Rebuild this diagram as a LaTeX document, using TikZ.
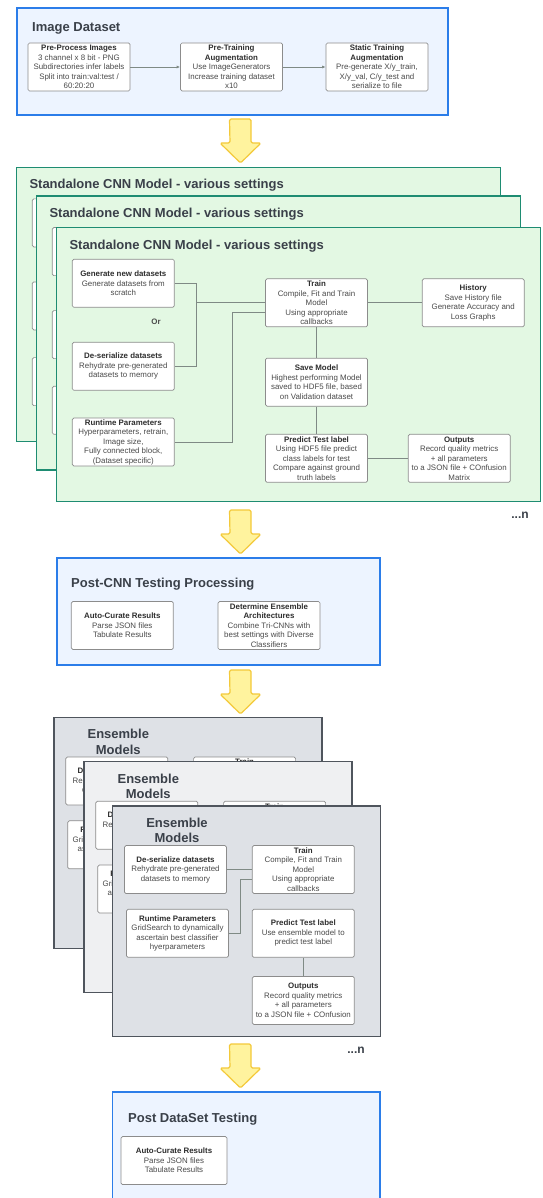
\documentclass[tikz,border=0pt]{standalone}
\usepackage{fontspec}
\setmainfont{Liberation Sans}
\usetikzlibrary{arrows.meta,calc}
\definecolor{bluebd}{HTML}{2B7DE9}
\definecolor{bluebg}{HTML}{EDF4FF}
\definecolor{greenbd}{HTML}{1E8C72}
\definecolor{greenbg}{HTML}{E3F8E3}
\definecolor{graybd}{HTML}{4F555D}
\definecolor{graybga}{HTML}{DEE1E6}
\definecolor{graybgb}{HTML}{EFF0F2}
\definecolor{titlec}{HTML}{3A4049}
\definecolor{cardbd}{HTML}{8C8C8C}
\definecolor{bodyc}{HTML}{4A4A4A}
\definecolor{headc}{HTML}{2E2E2E}
\definecolor{linec}{HTML}{7F8A85}
\definecolor{yellowbg}{HTML}{FFF39E}
\definecolor{yellowbd}{HTML}{F3C93A}
\newcommand\hd[1]{\textcolor{headc}{\bfseries #1}}
\newcommand\ctxt[1]{#1}
\newcommand\bktxt[1]{}
\tikzset{
  cardtext/.style={text=bodyc, font=\fontsize{7.9}{9.5}\selectfont, align=center, inner sep=0pt},
  card/.style={cardtext, draw=cardbd, line width=0.7pt, fill=white, rounded corners=1.5pt,
    minimum width=102pt, minimum height=48pt},
  ttl/.style={font=\bfseries\fontsize{13}{15.5}\selectfont, text=titlec, inner sep=0pt},
  conn/.style={draw=linec, line width=0.7pt},
  arr/.style={conn, -{Latex[length=3.5pt,width=3pt]}},
  bluebox/.style={draw=bluebd, fill=bluebg, line width=1.4pt},
  greenbox/.style={draw=greenbd, fill=greenbg, line width=1.4pt},
  graybox/.style={draw=graybd, line width=1.4pt},
  yarr/.style={draw=yellowbd, fill=yellowbg, line width=1.2pt, rounded corners=1.5pt, line join=round},
  dots/.style={font=\bfseries\fontsize{12}{14}\selectfont, text=titlec, inner sep=0pt},
}
\newcommand\yarrow[1]{\filldraw[yarr] (229.5,#1) -- ++(21.5,0) -- ++(0,24) -- ++(10,0) -- ++(-20.5,20) -- ++(-20.5,-20) -- ++(10,0) -- cycle;}
\newcommand\cnnlayer[3]{%
\begin{scope}[shift={(#1,#2)}, name prefix=#3]
  \filldraw[greenbox] (0,0) rectangle (484,274);
  \node[ttl, anchor=west] (title) at (12.6,18.3) {Standalone CNN Model - various settings};
  \node[card] (gen) at (66.6,55.6) {\ctxt{\hd{Generate new datasets}\\Generate datasets from\\scratch}};
  \node[inner sep=0pt, font=\bfseries\fontsize{7.9}{9.5}\selectfont, text=bodyc] (or) at (99.3,94.3) {\ctxt{Or}};
  \node[card] (deser) at (66.6,138.6) {\ctxt{\hd{De-serialize datasets}\\Rehydrate pre-generated\\datasets to memory}};
  \node[card] (rt) at (66.6,214.3) {\ctxt{\hd{Runtime Parameters}\\Hyperparameters, retrain,\\Image size,\\Fully connected block,\\(Dataset specific)}};
  \node[card] (train) at (259.8,75.1) {\ctxt{\hd{Train}\\Compile, Fit and Train\\Model\\Using appropriate\\callbacks}};
  \node[card] (hist) at (416.5,75.1) {\ctxt{\hd{History}\\Save History file\\Generate Accuracy and\\Loss Graphs}};
  \node[card] (save) at (259.8,154.5) {\ctxt{\hd{Save Model}\\Highest performing Model\\saved to HDF5 file, based\\on Validation dataset}};
  \node[card] (pred) at (259.8,230.6) {\ctxt{\hd{Predict Test label}\\Using HDF5 file predict\\class labels for test\\Compare against ground\\truth labels}};
  \node[card] (out) at (402.5,230.6) {\ctxt{\hd{Outputs}\\Record quality metrics\\+ all parameters\\to a JSON file + COnfusion\\Matrix}};
  \coordinate (j1) at (140,75.1);
  \coordinate (j2) at (175.6,84.6);
  \draw[conn] (gen.east) -| (j1) |- (deser.east);
  \draw[conn] (j1) -- (train.west);
  \draw[conn] (rt.east) -| (j2) -- (train.west |- j2);
  \draw[conn] (train) -- (hist);
  \draw[conn] (train) -- (save);
  \draw[conn] (save) -- (pred);
  \draw[conn] (pred) -- (out);
\end{scope}}
\newcommand\enslayer[4]{%
\begin{scope}[shift={(#1,#2)}, name prefix=#3]
  \filldraw[graybox, fill=#4] (0,0) rectangle (268,230.7);
  \node[ttl, align=center] (title) at (64.3,24.5) {Ensemble\\Models};
  \node[card] (deser) at (62.8,63.5) {\hd{De-serialize datasets}\\Rehydrate pre-generated\\datasets to memory};
  \node[card] (train) at (190.6,63.5) {\ctxt{\hd{Train}\\Compile, Fit and Train\\Model\\Using appropriate\\callbacks}};
  \bktxt{\node[cardtext] (trh) at (190.6,44.5) {\hd{Train}};}
  \node[card] (rt) at (64.8,127.3) {\hd{Runtime Parameters}\\GridSearch to dynamically\\ascertain best classifier\\hyerparameters};
  \node[card] (pred) at (190.6,127.3) {\ctxt{\hd{Predict Test label}\\Use ensemble model to\\predict test label}};
  \node[card] (out) at (190.6,194.5) {\ctxt{\hd{Outputs}\\Record quality metrics\\+ all parameters\\to a JSON file + COnfusion}};
  \coordinate (j) at (127.3,73.3);
  \draw[conn] (deser) -- (train);
  \draw[conn] (rt.east) -| (j) -- (train.west |- j);
  \draw[conn] (pred) -- (out);
\end{scope}}
\begin{document}
\begin{tikzpicture}[x=1pt,y=-1pt]
\useasboundingbox (0,0) rectangle (542,1198);
\clip (0,0) rectangle (542,1198);
\fill[white] (0,0) rectangle (542,1198);
% Image Dataset
\filldraw[bluebox] (17,8) rectangle (448,115);
\node[ttl, anchor=west] (t1) at (32,28) {Image Dataset};
\node[card] (pp) at (79,67) {\hd{Pre-Process Images}\\3 channel x 8 bit - PNG\\Subdirectories infer labels\\Split into train:val:test /\\60:20:20};
\node[card] (pt) at (231.5,67) {\hd{Pre-Training}\\\hd{Augmentation}\\Use ImageGenerators\\Increase training dataset\\x10};
\node[card] (st) at (377,67) {\hd{Static Training}\\\hd{Augmentation}\\Pre-generate X/y\_train,\\X/y\_val, C/y\_test and\\serialize to file};
\draw[arr] (pp) -- (pt);
\draw[arr] (pt) -- (st);
\yarrow{119}
% CNN layers (text of the back layers is hidden behind the front ones)
\renewcommand\ctxt[1]{}
\cnnlayer{16.7}{167.3}{a-}
\cnnlayer{36.7}{196}{b-}
\renewcommand\ctxt[1]{#1}
\cnnlayer{56.7}{227.7}{c-}
\node[dots] (n1) at (520,515) {...n};
\yarrow{510}
% Post-CNN
\filldraw[bluebox] (57,558) rectangle (380,665);
\node[ttl, anchor=west] (t2) at (71,584) {Post-CNN Testing Processing};
\node[card] (ac1) at (122.3,625.5) {\hd{Auto-Curate Results}\\Parse JSON files\\Tabulate Results};
\node[card] (dea) at (269,625.5) {\hd{Determine Ensemble}\\\hd{Architectures}\\Combine Tri-CNNs with\\best settings with Diverse\\Classifiers};
\yarrow{670}
% Ensemble layers
\renewcommand\ctxt[1]{}
\renewcommand\bktxt[1]{#1}
\enslayer{54}{717.5}{p-}{graybga}
\enslayer{84}{761.7}{q-}{graybgb}
\renewcommand\ctxt[1]{#1}
\renewcommand\bktxt[1]{}
\enslayer{112.7}{806}{r-}{graybga}
\node[dots] (n2) at (356,1050) {...n};
\yarrow{1044}
% Post DataSet
\filldraw[bluebox] (112.7,1092) rectangle (380,1215);
\node[ttl, anchor=west] (t3) at (128,1119) {Post DataSet Testing};
\node[card, minimum width=106pt] (ac2) at (174,1160.5) {\hd{Auto-Curate Results}\\Parse JSON files\\Tabulate Results};
\end{tikzpicture}
\end{document}
